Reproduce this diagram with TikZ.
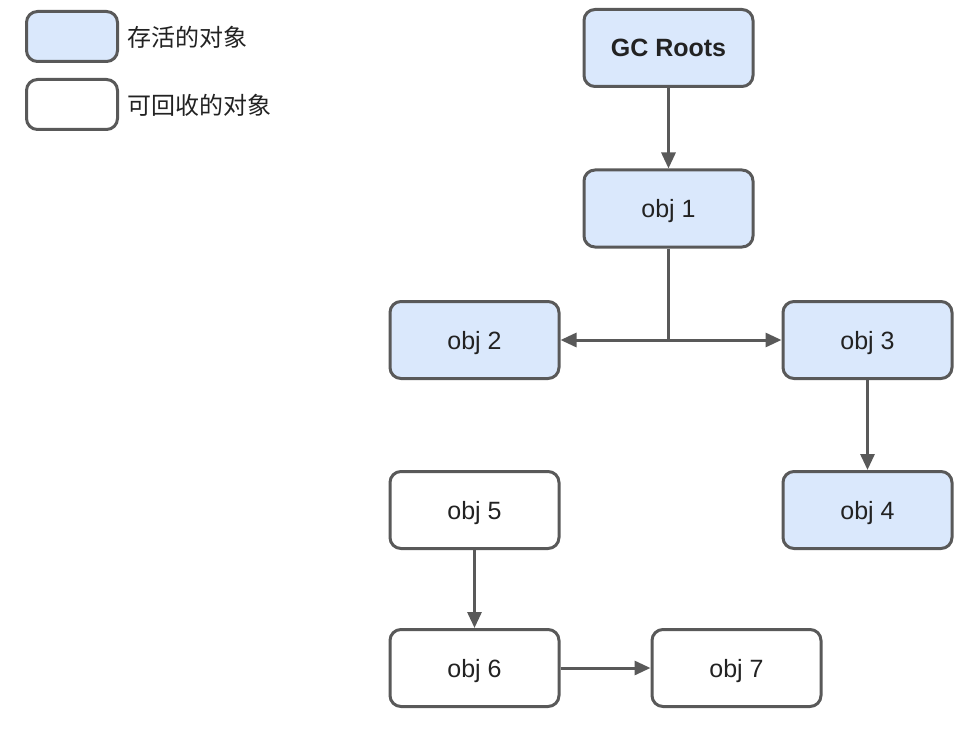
\documentclass[tikz,border=0pt]{standalone}
\usepackage{fontspec}
\setmainfont{Liberation Sans}
\newfontfamily\cjk{Noto Sans CJK SC}
\usetikzlibrary{arrows.meta}
\definecolor{live}{HTML}{DAE8FC}
\definecolor{edge}{HTML}{595959}
\definecolor{txt}{HTML}{222222}
\begin{document}
\begin{tikzpicture}[x=1pt,y=-1pt,
  objbox/.style={draw=edge,line width=3pt,rounded corners=11pt,minimum width=169pt,minimum height=77pt,inner sep=0pt,text depth=0pt,text=txt,font=\fontsize{25}{28}\selectfont},
  alive/.style={objbox,fill=live},
  dead/.style={objbox,fill=white},
  legbox/.style={draw=edge,line width=3pt,rounded corners=11pt,minimum width=91pt,minimum height=50pt,inner sep=0pt},
  legtext/.style={anchor=west,inner sep=0pt,text=txt,font=\cjk\fontsize{24}{27}\selectfont},
  conn/.style={draw=edge,line width=3pt,-{Triangle[length=16pt,width=14pt]}}]
\useasboundingbox (0,0) rectangle (974,738);
% legend
\node[legbox,fill=live] (l1) at (72,36.5) {};
\node[legtext] (t1) at (127,37) {存活的对象};
\node[legbox,fill=white] (l2) at (72,104.5) {};
\node[legtext] (t2) at (127,105) {可回收的对象};
% nodes
\node[alive,font=\bfseries\fontsize{25}{28}\selectfont] (gc) at (668.5,48) {GC Roots};
\node[alive] (o1) at (668.5,208.5) {obj 1};
\node[alive] (o2) at (474.5,340) {obj 2};
\node[alive] (o3) at (867.5,340) {obj 3};
\node[alive] (o4) at (867.5,510) {obj 4};
\node[dead] (o5) at (474.5,510) {obj 5};
\node[dead] (o6) at (474.5,668) {obj 6};
\node[dead] (o7) at (736.5,668) {obj 7};
\coordinate (j) at (668.5,340);
% connectors
\draw[conn] (gc) -- (o1);
\draw[draw=edge,line width=3pt] (o1.south) -- (j);
\draw[conn] (j) -- (o2.east);
\draw[conn] (j) -- (o3.west);
\draw[conn] (o3) -- (o4);
\draw[conn] (o5) -- (o6);
\draw[conn] (o6) -- (o7);
\end{tikzpicture}
\end{document}
